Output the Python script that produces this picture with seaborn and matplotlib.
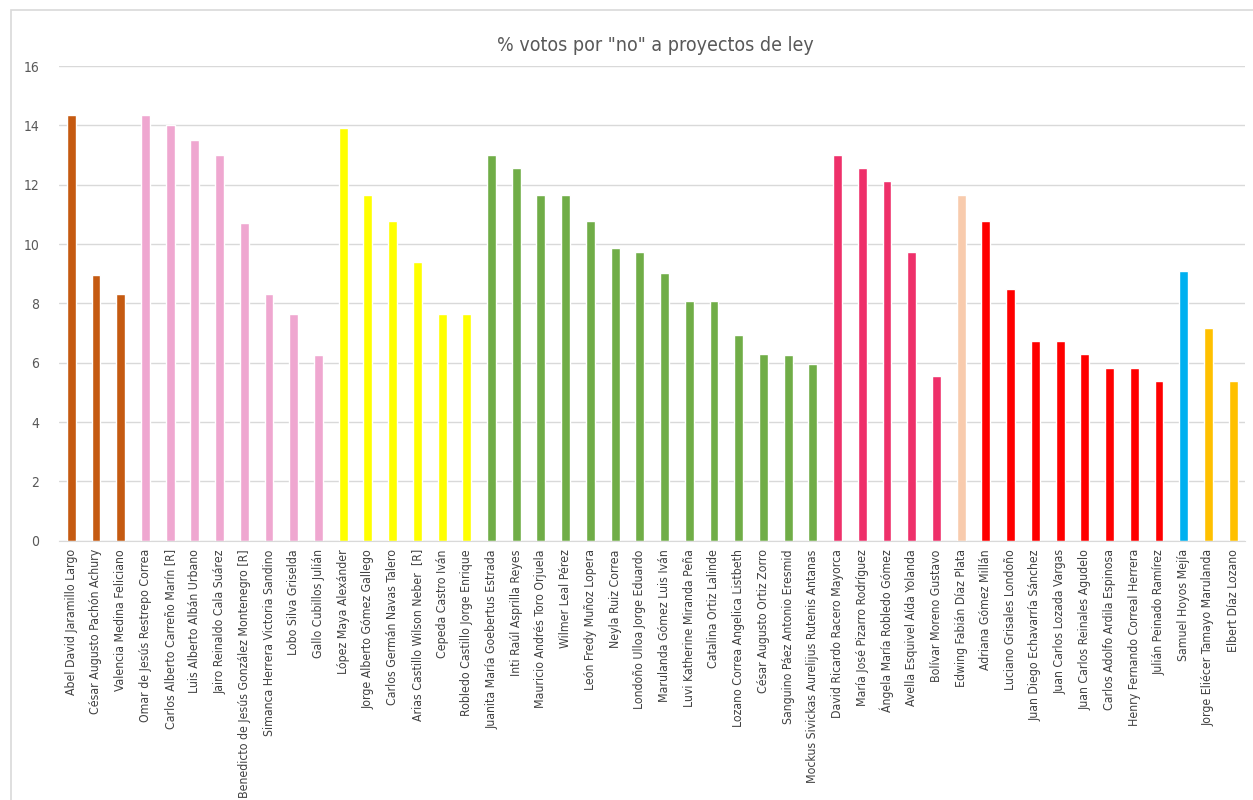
import matplotlib
matplotlib.use("Agg")
import matplotlib.pyplot as plt
from matplotlib.patches import Rectangle
import seaborn as sns
import pandas as pd

# Datos
nombres = [
    "Abel David Jaramillo Largo", "César Augusto Pachón Achury", "Valencia Medina Feliciano",
    "Omar de Jesús Restrepo Correa", "Carlos Alberto Carreño Marín [R]", "Luis Alberto Albán Urbano",
    "Jairo Reinaldo Cala Suárez", "Benedicto de Jesús González Montenegro [R]",
    "Simanca Herrera Victoria Sandino", "Lobo Silva Griselda", "Gallo Cubillos Julián",
    "López Maya Alexánder", "Jorge Alberto Gómez Gallego", "Carlos Germán Navas Talero",
    "Arias Castillo Wilson Neber  [R]", "Cepeda Castro Iván", "Robledo Castillo Jorge Enrique",
    "Juanita María Goebertus Estrada", "Inti Raúl Asprilla Reyes", "Mauricio Andrés Toro Orjuela",
    "Wilmer Leal Pérez", "León Fredy Muñoz Lopera", "Neyla Ruiz Correa",
    "Londoño Ulloa Jorge Eduardo", "Marulanda Gómez Luis Iván", "Luvi Katherine Miranda Peña",
    "Catalina Ortiz Lalinde", "Lozano Correa Angelica Listbeth", "César Augusto Ortiz Zorro",
    "Sanguino Páez Antonio Eresmid", "Mockus Sivickas Aurelijus Rutenis Antanas",
    "David Ricardo Racero Mayorca", "María José Pizarro Rodríguez", "Ángela María Robledo Gómez",
    "Avella Esquivel Aída Yolanda", "Bolívar Moreno Gustavo", "Edwing Fabián Díaz Plata",
    "Adriana Gómez Millán", "Luciano Grisales Londoño", "Juan Diego Echavarría Sánchez",
    "Juan Carlos Lozada Vargas", "Juan Carlos Reinales Agudelo", "Carlos Adolfo Ardila Espinosa",
    "Henry Fernando Correal Herrera", "Julián Peinado Ramírez", "Samuel Hoyos Mejía",
    "Jorge Eliécer Tamayo Marulanda", "Elbert Díaz Lozano",
]
porcentajes = [
    14.35, 8.97, 8.33,
    14.35, 14.0, 13.5, 13.0, 10.7, 8.33, 7.64, 6.25,
    13.9, 11.65, 10.76, 9.38, 7.64, 7.64,
    13.0, 12.56, 11.65, 11.65, 10.76, 9.87, 9.72, 9.03, 8.07, 8.07, 6.94, 6.28, 6.25, 5.95,
    13.0, 12.56, 12.12, 9.72, 5.56,
    11.65,
    10.76, 8.5, 6.72, 6.72, 6.28, 5.83, 5.83, 5.38,
    9.1,
    7.17, 5.38,
]
grupos = (["marron"] * 3 + ["rosa"] * 8 + ["amarillo"] * 6 + ["verde"] * 14
          + ["carmesi"] * 5 + ["durazno"] * 1 + ["rojo"] * 8 + ["azul"] * 1 + ["oro"] * 2)
colores_grupo = {
    "marron": "#C55A11", "rosa": "#EFA7D0", "amarillo": "#FFFF00", "verde": "#70AD47",
    "carmesi": "#EE306A", "durazno": "#F8CBAD", "rojo": "#FF0000", "azul": "#00B0F0",
    "oro": "#FFC000",
}

df = pd.DataFrame({"Nombre": nombres, "Porcentaje": porcentajes, "Grupo": grupos})
paleta = {n: colores_grupo[g] for n, g in zip(nombres, grupos)}

sns.set_style("white")
plt.rcParams["font.family"] = ["DejaVu Sans"]
plt.rcParams["font.stretch"] = "condensed"

fig = plt.figure(figsize=(12.53, 8), dpi=100)
ax = fig.add_axes([0.047, 0.324, 0.947, 0.5935])

sns.barplot(data=df, x="Nombre", y="Porcentaje", hue="Nombre", palette=paleta,
            width=0.36, legend=False, ax=ax, saturation=1)

ax.set_ylim(0, 16)
ax.set_yticks(range(0, 17, 2))
ax.set_xlim(-0.5, len(nombres) - 0.5)
ax.grid(axis="y", color="#D9D9D9", linewidth=1)
ax.set_axisbelow(True)
for s in ["top", "right", "left"]:
    ax.spines[s].set_visible(False)
ax.spines["bottom"].set_color("#D9D9D9")
ax.tick_params(axis="y", length=0, labelsize=10, labelcolor="#595959", pad=14)
ax.tick_params(axis="x", length=0, labelsize=8.8, labelcolor="#404040", pad=6)
plt.setp(ax.get_xticklabels(), rotation=90)
ax.set_xlabel("")
ax.set_ylabel("")

fig.text(0.523, 0.943, '% votos por "no" a proyectos de ley', ha="center", va="center",
         fontsize=14, color="#595959")

fig.patches.append(Rectangle((0.009, -0.01), 1.0, 0.997, transform=fig.transFigure,
                             fill=False, edgecolor="#D9D9D9", linewidth=1.2))

fig.savefig("out.png", dpi=100)
